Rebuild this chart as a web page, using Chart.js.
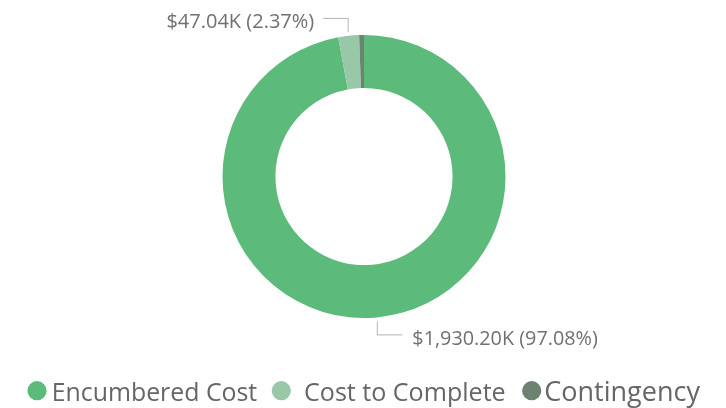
<!DOCTYPE html>
<html>
<head>
<meta charset="utf-8">
<script src="https://cdn.jsdelivr.net/npm/chart.js@4/dist/chart.umd.min.js"></script>
<style>
  html, body { margin: 0; padding: 0; background: #ffffff; }
  #wrap { width: 726px; height: 408px; position: relative; }
  canvas { display: block; }
</style>
</head>
<body>
<div id="wrap"><canvas id="c" width="726" height="408"></canvas></div>
<script>
// ---- data ----
const categories = ["Encumbered Cost", "Cost to Complete", "Contingency"];
const valuesK = [1930.20, 47.04, 10.94];
const colors = ["#5cbb7b", "#98c8a8", "#6e8272"];
const labelledSlices = [0, 1];

const FONT = "'Open Sans', 'Noto Sans', sans-serif";
const TEXT_COLOR = "#707070";
const LINE_COLOR = "#b4b4b4";

function fmtK(v) {
  return "$" + v.toLocaleString("en-US", {minimumFractionDigits: 2, maximumFractionDigits: 2}) + "K";
}
function fitFont(ctx, text, targetWidth) {
  ctx.font = "20px " + FONT;
  const w = ctx.measureText(text).width;
  return 20 * targetWidth / w;
}

const labelPlugin = {
  id: "sliceLabels",
  afterDatasetsDraw(chart) {
    const ctx = chart.ctx;
    const meta = chart.getDatasetMeta(0);
    const data = chart.data.datasets[0].data;
    const total = data.reduce((a, b) => a + b, 0);
    ctx.save();
    labelledSlices.forEach(i => {
      const arc = meta.data[i];
      const p = arc.getProps(["x", "y", "startAngle", "endAngle", "outerRadius"], true);
      const mid = (p.startAngle + p.endAngle) / 2;
      const r = p.outerRadius + 4;
      const ax = p.x + Math.cos(mid) * r;
      const ay = p.y + Math.sin(mid) * r;
      const up = ay < p.y;
      const left = ax < p.x;
      const ey = ay + (up ? -13.5 : 13.5);
      const ex = ax + (left ? -25 : 25);
      ctx.strokeStyle = LINE_COLOR;
      ctx.lineWidth = 1;
      ctx.beginPath();
      ctx.moveTo(ax, ay);
      ctx.lineTo(ax, ey);
      ctx.lineTo(ex, ey);
      ctx.stroke();
      const text = fmtK(data[i]) + " (" + (data[i] / total * 100).toFixed(2) + "%)";
      const size = fitFont(ctx, text, 9.45 * text.length + 6);
      ctx.font = size.toFixed(2) + "px " + FONT;
      ctx.fillStyle = TEXT_COLOR;
      ctx.textBaseline = "alphabetic";
      ctx.textAlign = left ? "right" : "left";
      ctx.fillText(text, ex + (left ? -9 : 10), ey + 10);
    });
    ctx.restore();
  }
};

const legendPlugin = {
  id: "customLegend",
  afterDraw(chart) {
    const ctx = chart.ctx;
    const circleX = [37, 281.3, 531.7];
    const textX = [51.7, 304, 544.3];
    const textW = [205.6, 201.7, 155.7];
    ctx.save();
    categories.forEach((name, i) => {
      ctx.fillStyle = colors[i];
      ctx.beginPath();
      ctx.arc(circleX[i], 390.7, 9.6, 0, Math.PI * 2);
      ctx.fill();
      const size = fitFont(ctx, name, textW[i]);
      ctx.font = size.toFixed(2) + "px " + FONT;
      ctx.fillStyle = "#666666";
      ctx.textAlign = "left";
      ctx.textBaseline = "alphabetic";
      ctx.fillText(name, textX[i], 401);
    });
    ctx.restore();
  }
};

new Chart(document.getElementById("c"), {
  type: "doughnut",
  data: {
    labels: categories,
    datasets: [{
      data: valuesK,
      backgroundColor: colors,
      borderWidth: 0,
      hoverOffset: 0
    }]
  },
  options: {
    responsive: false,
    animation: false,
    devicePixelRatio: 1,
    cutout: "62.6%",
    layout: { padding: { top: 35, bottom: 90, left: 2, right: 0 } },
    plugins: {
      legend: { display: false },
      tooltip: { enabled: false }
    }
  },
  plugins: [labelPlugin, legendPlugin]
});
</script>
</body>
</html>
